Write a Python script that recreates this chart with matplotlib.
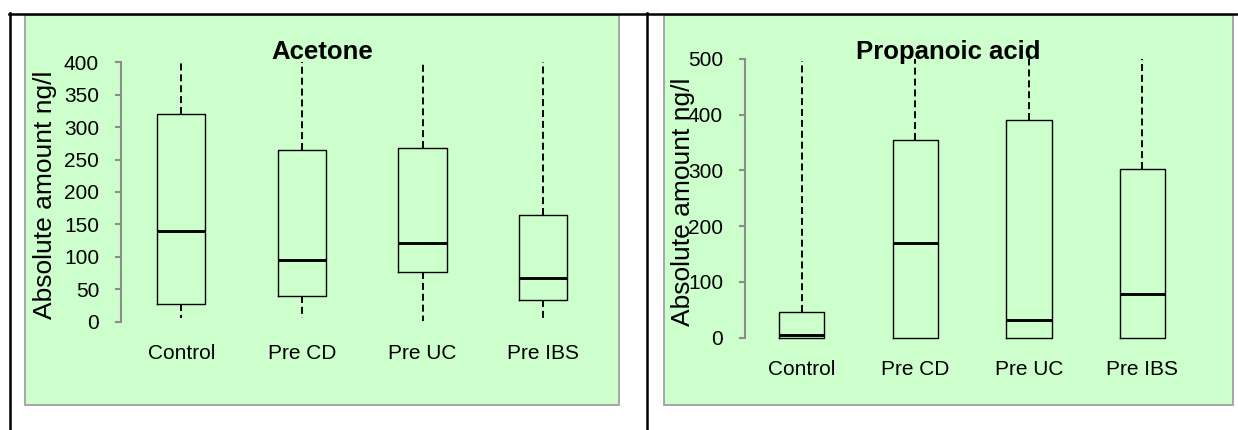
import matplotlib
matplotlib.use("Agg")
import matplotlib.pyplot as plt
from matplotlib.patches import Rectangle
from matplotlib.lines import Line2D

plt.rcParams['font.family'] = ['Liberation Sans', 'DejaVu Sans']

categories = ["Control", "Pre CD", "Pre UC", "Pre IBS"]

acetone_q1 = [28, 39, 76, 34]
acetone_med = [140, 95, 121, 68]
acetone_q3 = [321, 265, 268, 165]
acetone_lo = [5, 5, 1, 1]
acetone_hi = [400, 400, 398, 400]
acetone_ticks = [0, 50, 100, 150, 200, 250, 300, 350, 400]

prop_q1 = [0, 0, 0, 0]
prop_med = [4, 169, 31, 78]
prop_q3 = [46, 354, 391, 302]
prop_lo = [0, 0, 0, 0]
prop_hi = [497, 500, 500, 500]
prop_ticks = [0, 100, 200, 300, 400, 500]

W, H = 1238, 430
fig = plt.figure(figsize=(W / 100, H / 100), dpi=100)
fig.patch.set_facecolor('white')

def fx(x):
    return x / W

def fy(y):
    return 1 - y / H

GREEN = '#CCFFCC'
GRAY = '#A0A0A0'

# green panels
for (x0, x1) in [(25, 619), (664, 1233)]:
    fig.patches.append(Rectangle((fx(x0), fy(405)), fx(x1) - fx(x0), fy(15) - fy(405),
                                 transform=fig.transFigure, facecolor=GREEN,
                                 edgecolor=GRAY, linewidth=1.3, zorder=-2))

# black frame lines
lw_frame = 1.8
fig.lines.append(Line2D([fx(9), fx(1238)], [fy(13.5), fy(13.5)], transform=fig.transFigure,
                        color='black', linewidth=lw_frame, zorder=5))
fig.lines.append(Line2D([fx(10), fx(10)], [fy(12.5), fy(430)], transform=fig.transFigure,
                        color='black', linewidth=lw_frame, zorder=5))
fig.lines.append(Line2D([fx(647), fx(647)], [fy(12.5), fy(430)], transform=fig.transFigure,
                        color='black', linewidth=lw_frame, zorder=5))


def make_panel(left, right, top, bottom, ymax, q1, med, q3, lo, hi, ticks, title,
               title_x, ylab_x):
    ax = fig.add_axes([fx(left), fy(bottom), fx(right) - fx(left), fy(top) - fy(bottom)])
    ax.patch.set_visible(False)
    stats = []
    for i in range(len(categories)):
        stats.append(dict(med=med[i], q1=q1[i], q3=q3[i], whislo=lo[i], whishi=hi[i],
                          fliers=[], label=categories[i]))
    art = ax.bxp(stats, positions=[1, 2, 3, 4], widths=0.4, showcaps=False,
                 showfliers=False, manage_ticks=False,
                 boxprops=dict(color='black', linewidth=1.0),
                 whiskerprops=dict(color='black', linewidth=1.4, linestyle=(0, (3.6, 2.0))),
                 medianprops=dict(color='black', linewidth=2.1))
    for k in art:
        for a in art[k]:
            a.set_clip_on(False)
    ax.set_xlim(0.5, 4.5)
    ax.set_ylim(0, ymax)
    ax.set_yticks(ticks)
    ax.set_yticklabels([str(t) for t in ticks])
    ax.set_xticks([1, 2, 3, 4])
    ax.set_xticklabels(categories)
    for s in ['top', 'right', 'bottom']:
        ax.spines[s].set_visible(False)
    ax.spines['left'].set_color('#8C8C8C')
    ax.spines['left'].set_linewidth(1.5)
    ax.tick_params(axis='y', direction='out', length=4.3, width=1.5, color='#8C8C8C',
                   labelsize=15, labelcolor='black', pad=11.5)
    ax.tick_params(axis='x', length=0, labelsize=15, labelcolor='black', pad=16)
    fig.text(fx(title_x), fy(52), title, ha='center', va='center', fontsize=18.5,
             fontweight='bold', color='black')
    fig.text(fx(ylab_x), fy((top + bottom) / 2 + 3), "Absolute amount ng/l", rotation=90,
             ha='center', va='center', fontsize=19, color='black')
    return ax


make_panel(121, 603.6, 62.3, 321.7, 400, acetone_q1, acetone_med, acetone_q3,
           acetone_lo, acetone_hi, acetone_ticks, "Acetone", 322, 45)
make_panel(745, 1199.2, 59, 337.7, 500, prop_q1, prop_med, prop_q3,
           prop_lo, prop_hi, prop_ticks, "Propanoic acid", 948, 683)

fig.savefig("out.png", dpi=100, facecolor='white')
